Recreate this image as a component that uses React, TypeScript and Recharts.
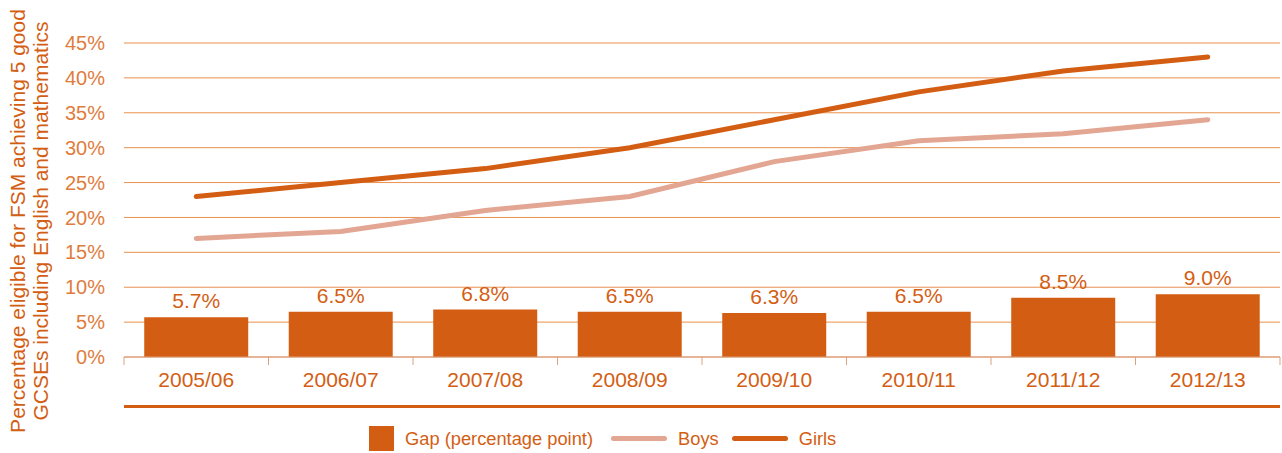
import { ComposedChart, Bar, Line, XAxis, YAxis, CartesianGrid, LabelList } from "recharts"

const years = ["2005/06", "2006/07", "2007/08", "2008/09", "2009/10", "2010/11", "2011/12", "2012/13"]
const gap = [5.7, 6.5, 6.8, 6.5, 6.3, 6.5, 8.5, 9.0]
const boys = [17, 18, 21, 23, 28, 31, 32, 34]
const girls = [23, 25, 27, 30, 34, 38, 41, 43]
const yTicks = [0, 5, 10, 15, 20, 25, 30, 35, 40, 45]

const data = years.map((year, i) => ({ year, gap: gap[i], boys: boys[i], girls: girls[i] }))

const DARK = "#d35e13"
const LIGHT = "#e3a693"
const GRID = "#e8914f"
const TICK = "#e07c3c"
const AXIS = "#d9a184"
const FONT = "'Liberation Sans', Arial, Helvetica, sans-serif"

const W = 1282
const H = 453
const LEFT = 124
const RIGHT = 2
const BAND = (W - LEFT - RIGHT) / years.length

function CategoryTick(props: any) {
  const { x, y, payload, index } = props
  const last = index === years.length - 1
  const top = y - 8
  return (
    <g>
      <line x1={x - BAND / 2} x2={x - BAND / 2} y1={top} y2={top + 8} stroke={AXIS} strokeWidth={1} />
      {last && <line x1={x + BAND / 2} x2={x + BAND / 2} y1={top} y2={top + 8} stroke={AXIS} strokeWidth={1} />}
      <text x={x} y={top + 30} textAnchor="middle" fill={DARK} fontSize={21} fontFamily={FONT}>
        {payload.value}
      </text>
    </g>
  )
}

function YTitle() {
  return (
    <g fill={DARK} fontSize={21} fontFamily={FONT}>
      <text transform="translate(25,221) rotate(-90)" textAnchor="middle">
        Percentage eligible for FSM achieving 5 good
      </text>
      <text transform="translate(48,221) rotate(-90)" textAnchor="middle">
        GCSEs including English and mathematics
      </text>
    </g>
  )
}

export default function App() {
  return (
    <div style={{ position: "absolute", left: 0, top: 0, width: W, height: H, background: "#fff", fontFamily: FONT }}>
      <ComposedChart width={W} height={H} data={data} margin={{ top: 43, right: RIGHT, bottom: 0, left: 0 }} barCategoryGap="14%">
        <CartesianGrid vertical={false} stroke={GRID} strokeWidth={1} />
        <XAxis
          dataKey="year"
          height={96}
          axisLine={{ stroke: AXIS }}
          tickLine={false}
          tick={<CategoryTick />}
          interval={0}
        />
        <YAxis
          width={LEFT}
          domain={[0, 45]}
          ticks={yTicks}
          tickFormatter={(v: number) => `${v}%`}
          axisLine={false}
          tickLine={false}
          tickMargin={13}
          tick={{ fill: TICK, fontSize: 20, fontFamily: FONT }}
          label={<YTitle />}
        />
        <Bar dataKey="gap" fill={DARK} isAnimationActive={false}>
          <LabelList
            dataKey="gap"
            position="top"
            offset={9}
            formatter={(v: any) => `${Number(v).toFixed(1)}%`}
            style={{ fill: DARK, fontSize: 21, fontFamily: FONT }}
          />
        </Bar>
        <Line dataKey="boys" stroke={LIGHT} strokeWidth={5} strokeLinecap="round" dot={false} isAnimationActive={false} />
        <Line dataKey="girls" stroke={DARK} strokeWidth={5} strokeLinecap="round" dot={false} isAnimationActive={false} />
      </ComposedChart>
      <div style={{ position: "absolute", left: LEFT, top: 405, width: W - LEFT - RIGHT, height: 3, background: DARK }} />
      <div style={{ position: "absolute", left: 369, top: 426, display: "flex", alignItems: "center", color: DARK, fontSize: 18.3 }}>
        <span style={{ width: 25, height: 25, background: DARK, display: "inline-block" }} />
        <span style={{ marginLeft: 11 }}>Gap (percentage point)</span>
        <span style={{ width: 56, height: 5, background: LIGHT, display: "inline-block", marginLeft: 18, borderRadius: 3 }} />
        <span style={{ marginLeft: 11 }}>Boys</span>
        <span style={{ width: 56, height: 5, background: DARK, display: "inline-block", marginLeft: 13, borderRadius: 3 }} />
        <span style={{ marginLeft: 11 }}>Girls</span>
      </div>
    </div>
  )
}
